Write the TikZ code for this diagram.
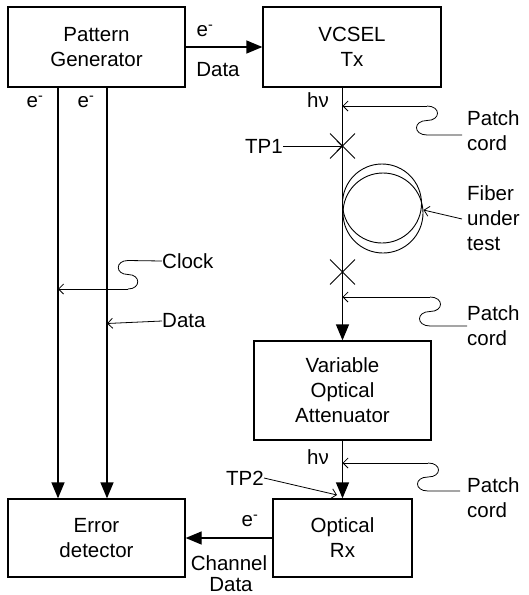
\documentclass[tikz,border=0pt]{standalone}
\usepackage{fontspec}
\setmainfont{Liberation Sans}
\usetikzlibrary{arrows.meta,shapes.misc}
\begin{document}
\begin{tikzpicture}[x=1pt,y=-1pt,
  every node/.style={font=\fontsize{20.5}{25}\selectfont, inner sep=0pt},
  box/.style={draw, line width=1.3pt, align=center},
  mainline/.style={line width=1.3pt},
  big/.style={mainline, -{Triangle[length=16pt,width=13pt]}},
  thinarrow/.style={line width=0.8pt, -{Straight Barb[length=5pt,width=10pt,line width=0.8pt]}},
  cord/.style={line width=0.8pt},
  lbl/.style={align=left, anchor=west},
  xmark/.style={cross out, draw, line width=0.9pt, minimum size=24pt}
]
\useasboundingbox (0,0) rectangle (528,595);

% boxes
\node[box, minimum width=177pt, minimum height=80pt] (pg) at (96.5,47) {Pattern\\Generator};
\node[box, minimum width=178pt, minimum height=80pt] (vc) at (352,47) {VCSEL\\Tx};
\node[box, minimum width=177pt, minimum height=99pt] (voa) at (342.5,390.5) {Variable\\Optical\\Attenuator};
\node[box, minimum width=139pt, minimum height=78pt] (rx) at (342.5,538) {Optical\\Rx};
\node[box, minimum width=177pt, minimum height=78pt] (ed) at (96.5,538) {Error\\detector};

% column coordinates
\coordinate (c1) at (58,0);
\coordinate (c2) at (107,0);

% electrical links
\draw[big] (pg.east) -- (vc.west);
\node (eA) at (205,31) {e\textsuperscript{-}};
\node (dA) at (218,70) {Data};

\draw[big] (pg.south -| c1) -- (ed.north -| c1);
\draw[big] (pg.south -| c2) -- (ed.north -| c2);
\node (eB) at (35,102) {e\textsuperscript{-}};
\node (eC) at (86,102) {e\textsuperscript{-}};

\draw[big] (rx.west) -- (ed.east);
\node (eD) at (250,521) {e\textsuperscript{-}};
\node (chan) at (229,563) {Channel};
\node (dB) at (231,585) {Data};

% optical path
\draw[big] (vc.south -| voa.north) -- (voa.north);
\draw[big] (voa.south) -- (rx.north);
\node (hv1) at (318,100) {hν};
\node (hv2) at (318,457) {hν};

% test points
\node[xmark] (x1) at (342.5,146) {};
\node[xmark] (x2) at (342.5,272) {};
\node (tp1) at (264,146) {TP1};
\draw[thinarrow] (tp1.east) -- (x1.center);
\node (tp2) at (245,478) {TP2};
\coordinate (tp2end) at (337,495);
\draw[thinarrow] (tp2.east) -- (tp2end);

% fiber spool
\node[circle, draw, line width=0.9pt, minimum size=79pt] (fa) at (382,203.5) {};
\node[circle, draw, line width=0.9pt, minimum size=80pt] (fb) at (383,213) {};
\node[lbl] (fiber) at (467,218.5) {Fiber\\under\\test};
\coordinate (fiberend) at (462,219);
\coordinate (fibertip) at (423.5,210);
\draw[thinarrow] (fiberend) -- (fibertip);

% patch cords
\node[lbl] (pc1) at (467,130.5) {Patch\\cord};
\node[lbl] (pc2) at (467,325.5) {Patch\\cord};
\node[lbl] (pc3) at (467,497.5) {Patch\\cord};
\coordinate (p1s) at (462,135);
\coordinate (p1e) at (342.5,106);
\coordinate (p2s) at (467,326);
\coordinate (p2e) at (342.5,297);
\coordinate (p3s) at (460,491);
\coordinate (p3e) at (342.5,463);
\draw[cord] (p1s) -- (427,135) .. controls (413,135) and (413,120.5) .. (427,120.5)
  .. controls (441,120.5) and (441,106) .. (427,106);
\draw[thinarrow] (427,106) -- (p1e);
\draw[cord] (p2s) -- (430,326) .. controls (416,326) and (416,311.5) .. (430,311.5)
  .. controls (444,311.5) and (444,297) .. (430,297);
\draw[thinarrow] (430,297) -- (p2e);
\draw[cord] (p3s) -- (428,491) .. controls (414,491) and (414,477) .. (428,477)
  .. controls (442,477) and (442,463) .. (428,463);
\draw[thinarrow] (428,463) -- (p3e);

% clock and data taps
\node[lbl] (clk) at (162,261) {Clock};
\node[lbl] (dat) at (162,321) {Data};
\coordinate (clkend) at (58,289);
\coordinate (datend) at (107,323.5);
\draw[cord] (clk.west) -- (128,260.5) .. controls (115,260.5) and (115,274.5) .. (128,274.5)
  .. controls (141,274.5) and (141,289) .. (128,289);
\draw[thinarrow] (128,289) -- (clkend);
\draw[thinarrow] (dat.west) -- (datend);
\end{tikzpicture}
\end{document}
